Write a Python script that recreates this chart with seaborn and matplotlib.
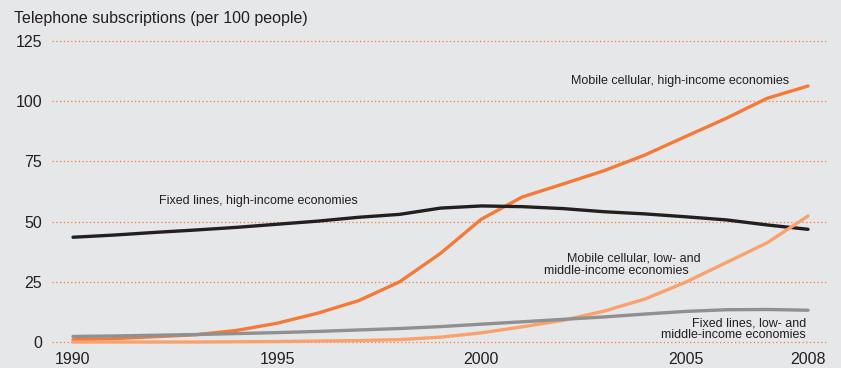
import pandas as pd
import matplotlib.pyplot as plt
import seaborn as sns

years = list(range(1990, 2009))

mobile_high = [0.9, 1.4, 2.2, 3.0, 4.8, 7.8, 12.0, 17.2, 25.0, 36.8, 51.0, 60.2, 65.6,
               71.1, 77.6, 85.3, 92.9, 101.2, 106.3]
fixed_high = [43.5, 44.4, 45.5, 46.5, 47.6, 48.9, 50.2, 51.8, 53.0, 55.6, 56.5, 56.2, 55.4,
              54.1, 53.2, 52.0, 50.7, 48.6, 46.8]
mobile_low = [0.0, 0.0, 0.0, 0.0, 0.1, 0.2, 0.4, 0.6, 1.0, 2.0, 3.8, 6.3, 9.0,
              12.8, 17.8, 24.8, 33.0, 41.2, 52.3]
fixed_low = [2.3, 2.5, 2.8, 3.1, 3.5, 3.9, 4.4, 5.0, 5.6, 6.4, 7.4, 8.4, 9.4,
             10.4, 11.6, 12.7, 13.4, 13.5, 13.2]

series_names = ['Mobile cellular, high-income economies',
                'Fixed lines, high-income economies',
                'Mobile cellular, low- and middle-income economies',
                'Fixed lines, low- and middle-income economies']
colors = ['#F47A3A', '#231F20', '#F9A26F', '#909090']

y_ticks = [0, 25, 50, 75, 100, 125]
x_ticks = [1990, 1995, 2000, 2005, 2008]

frames = []
for name, vals in zip(series_names, [mobile_high, fixed_high, mobile_low, fixed_low]):
    frames.append(pd.DataFrame({'year': years, 'value': vals, 'series': name}))
df = pd.concat(frames, ignore_index=True)

bg = '#E6E7E9'
sns.set_style('white')
plt.rcParams['font.family'] = ['Liberation Sans', 'DejaVu Sans']

fig = plt.figure(figsize=(8.41, 3.68), dpi=100, facecolor=bg)
ax = fig.add_axes([52 / 841, 20 / 368, 776 / 841, 308 / 368])
ax.set_facecolor(bg)

# dotted orange gridlines under the lines
for yv in y_ticks:
    ax.axhline(yv, color='#F47A3A', lw=0.9, linestyle=(0, (1, 2)), zorder=0)

sns.lineplot(data=df, x='year', y='value', hue='series', hue_order=series_names,
             palette=colors, linewidth=2.4, legend=False, ax=ax, zorder=3)

ax.set_xlim(1989.486, 2008.49)
ax.set_ylim(-2.49, 125.4)
ax.set_xticks(x_ticks)
ax.set_yticks(y_ticks)
ax.tick_params(axis='both', length=0, labelsize=11.5, colors='#231F20')
ax.tick_params(axis='x', pad=3)
ax.tick_params(axis='y', pad=7)
ax.set_xlabel('')
ax.set_ylabel('')
for s in ax.spines.values():
    s.set_visible(False)

fig.text(14 / 841, 1 - 18 / 368, 'Telephone subscriptions (per 100 people)',
         fontsize=11.5, color='#231F20', va='center', ha='left')

txt = dict(fontsize=9, color='#231F20')
ax.text(2007.54, 108.4, 'Mobile cellular, high-income economies', ha='right', va='center', **txt)
ax.text(1992.1, 58.5, 'Fixed lines, high-income economies', ha='left', va='center', **txt)
ax.text(2003.74, 34.5, 'Mobile cellular, low- and', ha='center', va='center', **txt)
ax.text(2003.30, 29.5, 'middle-income economies', ha='center', va='center', **txt)
ax.text(2007.95, 5.3, 'Fixed lines, low- and\nmiddle-income economies', ha='right',
        va='center', linespacing=1.0, **txt)

fig.savefig('out.png', dpi=100, facecolor=bg)
